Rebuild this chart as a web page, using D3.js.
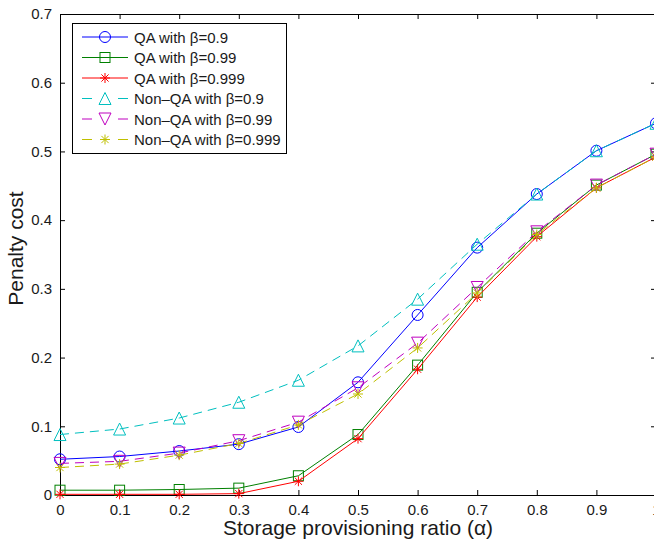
<!DOCTYPE html>
<html>
<head>
<meta charset="utf-8">
<script src="https://cdn.jsdelivr.net/npm/d3@7"></script>
<style>
  html, body { margin: 0; padding: 0; background: #fff; }
  svg { display: block; font-family: "Liberation Sans", Arial, Helvetica, sans-serif; }
</style>
</head>
<body>
<svg id="chart" width="654" height="541"></svg>
<script>
// Storage provisioning ratio (alpha) on the x axis
const alphas = [0, 0.1, 0.2, 0.3, 0.4, 0.5, 0.6, 0.7, 0.8, 0.9, 1.0];

// Penalty cost per policy
const qaBeta09    = [0.052, 0.056, 0.064, 0.074, 0.099, 0.164, 0.262, 0.360, 0.438, 0.501, 0.541];
const qaBeta099   = [0.007, 0.007, 0.008, 0.010, 0.028, 0.088, 0.189, 0.295, 0.381, 0.451, 0.496];
const qaBeta0999  = [0.001, 0.001, 0.001, 0.002, 0.020, 0.082, 0.183, 0.288, 0.376, 0.447, 0.492];
const nqaBeta09   = [0.088, 0.096, 0.112, 0.135, 0.167, 0.217, 0.285, 0.365, 0.438, 0.501, 0.541];
const nqaBeta099  = [0.046, 0.049, 0.061, 0.079, 0.106, 0.156, 0.221, 0.302, 0.383, 0.451, 0.496];
const nqaBeta0999 = [0.040, 0.045, 0.058, 0.075, 0.102, 0.147, 0.214, 0.294, 0.379, 0.447, 0.492];

const seriesNames = [
  "QA with β=0.9", "QA with β=0.99", "QA with β=0.999",
  "Non–QA with β=0.9", "Non–QA with β=0.99", "Non–QA with β=0.999"
];

const xTickValues = [0, 0.1, 0.2, 0.3, 0.4, 0.5, 0.6, 0.7, 0.8, 0.9, 1];
const xTickLabels = ["0", "0.1", "0.2", "0.3", "0.4", "0.5", "0.6", "0.7", "0.8", "0.9", "1"];
const yTickValues = [0, 0.1, 0.2, 0.3, 0.4, 0.5, 0.6, 0.7];
const yTickLabels = ["0", "0.1", "0.2", "0.3", "0.4", "0.5", "0.6", "0.7"];

const series = [
  { name: seriesNames[0], values: qaBeta09,    color: "#0000ff", dash: null,  marker: "circle" },
  { name: seriesNames[1], values: qaBeta099,   color: "#008000", dash: null,  marker: "square" },
  { name: seriesNames[2], values: qaBeta0999,  color: "#ff0000", dash: null,  marker: "star" },
  { name: seriesNames[3], values: nqaBeta09,   color: "#00bfbf", dash: "9,6", marker: "triUp" },
  { name: seriesNames[4], values: nqaBeta099,  color: "#bf00bf", dash: "9,6", marker: "triDown" },
  { name: seriesNames[5], values: nqaBeta0999, color: "#bfbf00", dash: "9,6", marker: "star" }
];

const svg = d3.select("#chart");
const plotLeft = 60, plotRight = 656, plotTop = 14, plotBottom = 495;

const x = d3.scaleLinear().domain([0, 1]).range([plotLeft, plotRight]);
const y = d3.scaleLinear().domain([0, 0.7]).range([plotBottom, plotTop]);

const textColor = "#1a1a1a";

// Axes box with inward ticks on all four sides
function styleAxis(g) {
  g.selectAll("path.domain").attr("stroke", "#000").attr("stroke-width", 1);
  g.selectAll(".tick line").attr("stroke", "#000").attr("stroke-width", 1);
  g.selectAll("text").attr("fill", textColor).attr("font-size", 15)
    .attr("font-family", "Liberation Sans, Arial, sans-serif");
}

svg.append("g").attr("transform", `translate(0,${plotBottom})`)
  .call(d3.axisBottom(x).tickValues(xTickValues).tickSizeInner(-5).tickSizeOuter(0)
    .tickPadding(9).tickFormat((d, i) => xTickLabels[i]))
  .call(styleAxis);

svg.append("g").attr("transform", `translate(0,${plotTop})`)
  .call(d3.axisTop(x).tickValues(xTickValues).tickSizeInner(-5).tickSizeOuter(0)
    .tickFormat(() => ""))
  .call(styleAxis);

svg.append("g").attr("transform", `translate(${plotLeft},0)`)
  .call(d3.axisLeft(y).tickValues(yTickValues).tickSizeInner(-5).tickSizeOuter(0)
    .tickPadding(8).tickFormat((d, i) => yTickLabels[i]))
  .call(styleAxis);

svg.append("g").attr("transform", `translate(${plotRight},0)`)
  .call(d3.axisRight(y).tickValues(yTickValues).tickSizeInner(-5).tickSizeOuter(0)
    .tickFormat(() => ""))
  .call(styleAxis);

// Axis titles
svg.append("text")
  .attr("x", (plotLeft + plotRight) / 2).attr("y", 535)
  .attr("text-anchor", "middle").attr("font-size", 21).attr("fill", textColor)
  .text("Storage provisioning ratio (α)");

svg.append("text")
  .attr("transform", `translate(23,${(plotTop + plotBottom) / 2 - 6}) rotate(-90)`)
  .attr("text-anchor", "middle").attr("font-size", 21).attr("fill", textColor)
  .text("Penalty cost");

// Marker drawing
function drawMarker(g, type, cx, cy, color) {
  if (type === "circle") {
    g.append("circle").attr("cx", cx).attr("cy", cy).attr("r", 5.5)
      .attr("fill", "none").attr("stroke", color).attr("stroke-width", 1);
  } else if (type === "square") {
    g.append("rect").attr("x", cx - 5).attr("y", cy - 5).attr("width", 10).attr("height", 10)
      .attr("fill", "none").attr("stroke", color).attr("stroke-width", 1);
  } else if (type === "triUp") {
    const s = 6;
    g.append("path").attr("d", `M${cx},${cy - s}L${cx + s},${cy + s}L${cx - s},${cy + s}Z`)
      .attr("fill", "none").attr("stroke", color).attr("stroke-width", 1);
  } else if (type === "triDown") {
    const s = 6;
    g.append("path").attr("d", `M${cx - s},${cy - s}L${cx + s},${cy - s}L${cx},${cy + s}Z`)
      .attr("fill", "none").attr("stroke", color).attr("stroke-width", 1);
  } else if (type === "star") {
    const s = 5, d = 3.6;
    g.append("path")
      .attr("d", `M${cx - s},${cy}L${cx + s},${cy}M${cx},${cy - s}L${cx},${cy + s}` +
                 `M${cx - d},${cy - d}L${cx + d},${cy + d}M${cx - d},${cy + d}L${cx + d},${cy - d}`)
      .attr("fill", "none").attr("stroke", color).attr("stroke-width", 1);
  }
}

const plot = svg.append("g");
const line = d3.line().x((d, i) => x(alphas[i])).y(d => y(d));

series.forEach(s => {
  const g = plot.append("g");
  g.append("path").datum(s.values).attr("d", line)
    .attr("fill", "none").attr("stroke", s.color).attr("stroke-width", 1)
    .attr("stroke-dasharray", s.dash);
  s.values.forEach((v, i) => drawMarker(g, s.marker, x(alphas[i]), y(v), s.color));
});

// Legend
const lg = svg.append("g");
lg.append("rect").attr("x", 72.5).attr("y", 23.5).attr("width", 214).attr("height", 130)
  .attr("fill", "#fff").attr("stroke", "#000").attr("stroke-width", 1);
series.forEach((s, i) => {
  const ry = 37 + i * 20.5;
  lg.append("line").attr("x1", 82).attr("x2", 128).attr("y1", ry).attr("y2", ry)
    .attr("stroke", s.color).attr("stroke-width", 1)
    .attr("stroke-dasharray", s.dash ? "10,26,10" : null);
  drawMarker(lg, s.marker, 105, ry, s.color);
  lg.append("text").attr("x", 134).attr("y", ry + 5.5)
    .attr("font-size", 15).attr("fill", textColor).text(s.name);
});
</script>
</body>
</html>
